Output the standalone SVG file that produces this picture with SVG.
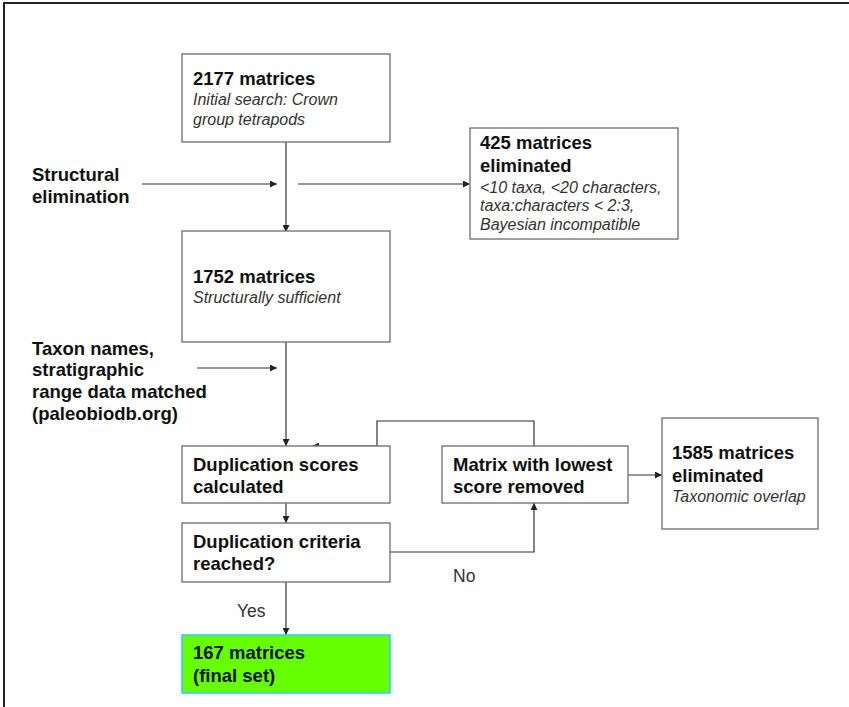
<svg xmlns="http://www.w3.org/2000/svg" width="849" height="707" viewBox="0 0 849 707">
<defs>
<marker id="ah" viewBox="0 0 10 10" refX="10" refY="5" markerWidth="7" markerHeight="7" orient="auto" markerUnits="userSpaceOnUse">
<path d="M0,0 L10,5 L0,10 z" fill="#222"/>
</marker>
<style>
.box{fill:#fff;stroke:#777;stroke-width:1.4}
.final{fill:#66ff00;stroke:#33ccff;stroke-width:1.6}
.b{font-family:"Liberation Sans",Arial,sans-serif;font-weight:bold;font-size:18.5px;fill:#111}
.i{font-family:"Liberation Sans",Arial,sans-serif;font-style:italic;font-size:16px;fill:#333}
.r{font-family:"Liberation Sans",Arial,sans-serif;font-size:17.5px;fill:#333}
.c{fill:none;stroke:#333;stroke-width:1.2}
</style>
</defs>
<rect width="849" height="707" fill="#fff"/>
<path d="M4,707 V3 H849" fill="none" stroke="#222" stroke-width="2"/>

<g id="connectors">
<path class="c" d="M286,142 V232" marker-end="url(#ah)"/>
<path class="c" d="M142,184 H277" marker-end="url(#ah)"/>
<path class="c" d="M298,184 H470" marker-end="url(#ah)"/>
<path class="c" d="M286,342 V446" marker-end="url(#ah)"/>
<path class="c" d="M197,368 H277" marker-end="url(#ah)"/>
<path class="c" d="M534,446 V421 H377 V446 H312" marker-end="url(#ah)"/>
<path class="c" d="M628,475 H662" marker-end="url(#ah)"/>
<path class="c" d="M286,503 V523" marker-end="url(#ah)"/>
<path class="c" d="M390,552 H534 V503" marker-end="url(#ah)"/>
<path class="c" d="M286,582 V635" marker-end="url(#ah)"/>
</g>

<g id="n2177">
<rect class="box" x="182" y="54" width="208" height="88"/>
<text class="b" x="193" y="85">2177 matrices</text>
<text class="i" x="193" y="105">Initial search: Crown</text>
<text class="i" x="193" y="125">group tetrapods</text>
</g>

<g id="n425">
<rect class="box" x="470" y="128" width="208" height="111"/>
<text class="b" x="480" y="149">425 matrices</text>
<text class="b" x="480" y="172">eliminated</text>
<text class="i" x="480" y="193">&lt;10 taxa, &lt;20 characters,</text>
<text class="i" x="480" y="211">taxa:characters &lt; 2:3,</text>
<text class="i" x="480" y="230">Bayesian incompatible</text>
</g>

<g id="lblStructural">
<text class="b" x="32" y="181">Structural</text>
<text class="b" x="32" y="203">elimination</text>
</g>

<g id="n1752">
<rect class="box" x="182" y="231" width="208" height="111"/>
<text class="b" x="193" y="283">1752 matrices</text>
<text class="i" x="193" y="303">Structurally sufficient</text>
</g>

<g id="lblTaxon">
<text class="b" x="32" y="355">Taxon names,</text>
<text class="b" x="32" y="376">stratigraphic</text>
<text class="b" x="32" y="398">range data matched</text>
<text class="b" x="32" y="420">(paleobiodb.org)</text>
</g>

<g id="nDupScores">
<rect class="box" x="182" y="446" width="208" height="57"/>
<text class="b" x="193" y="471">Duplication scores</text>
<text class="b" x="193" y="493">calculated</text>
</g>

<g id="nLowest">
<rect class="box" x="442" y="446" width="186" height="57"/>
<text class="b" x="453" y="471">Matrix with lowest</text>
<text class="b" x="453" y="493">score removed</text>
</g>

<g id="n1585">
<rect class="box" x="662" y="418" width="156" height="111"/>
<text class="b" x="672" y="459">1585 matrices</text>
<text class="b" x="672" y="482">eliminated</text>
<text class="i" x="672" y="502">Taxonomic overlap</text>
</g>

<g id="nCriteria">
<rect class="box" x="182" y="523" width="208" height="59"/>
<text class="b" x="193" y="548">Duplication criteria</text>
<text class="b" x="193" y="570">reached?</text>
</g>

<g id="lblNo"><text class="r" x="453" y="582">No</text></g>
<g id="lblYes"><text class="r" x="237" y="617">Yes</text></g>

<g id="n167">
<rect class="final" x="182" y="635" width="208" height="58"/>
<text class="b" x="193" y="659">167 matrices</text>
<text class="b" x="193" y="682">(final set)</text>
</g>
</svg>
